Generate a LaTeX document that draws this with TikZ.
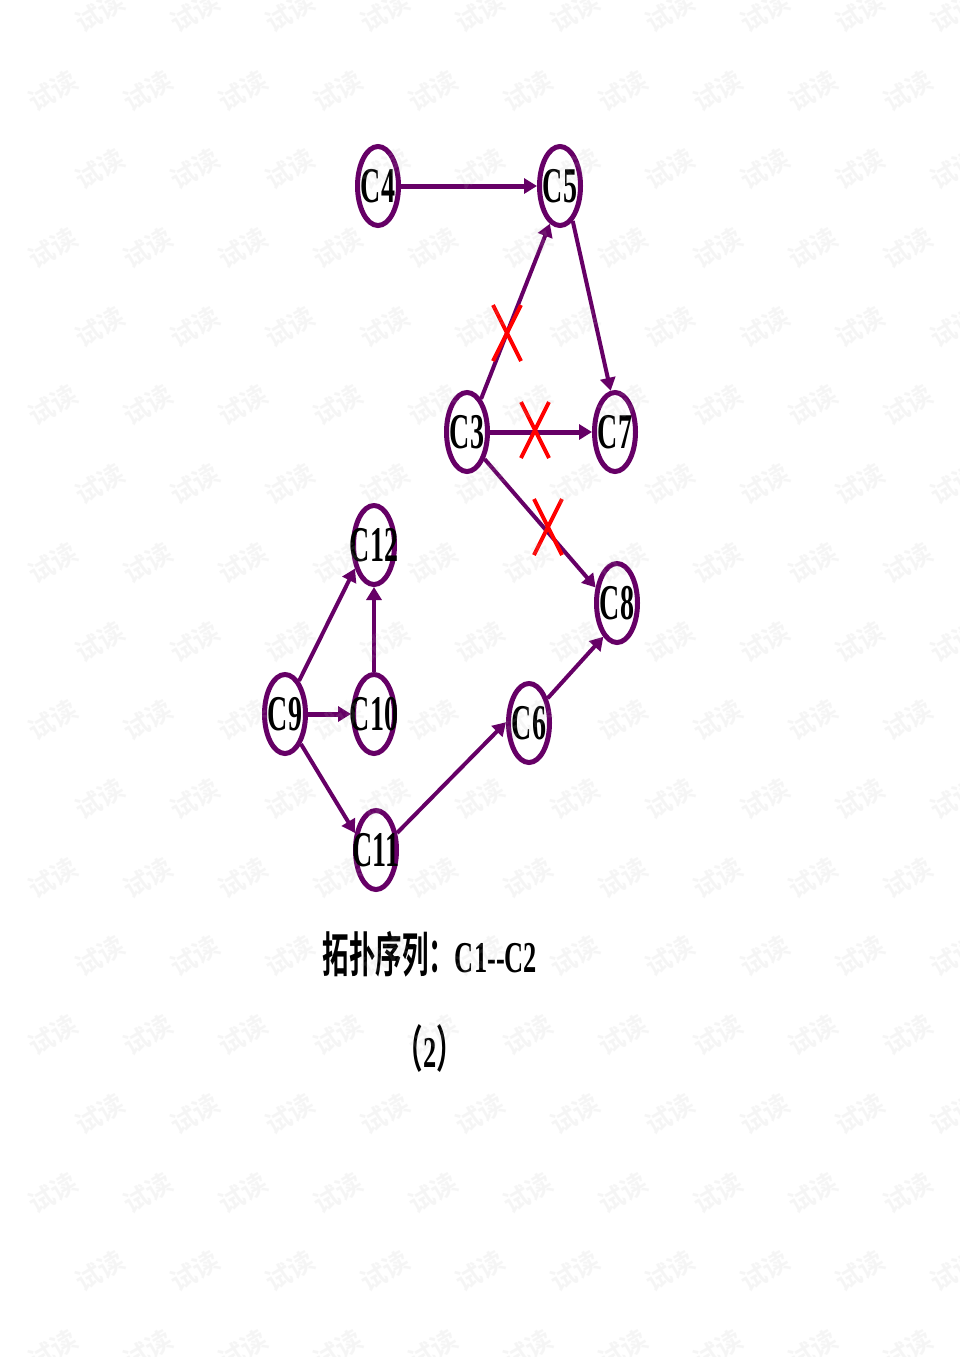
\documentclass[tikz,border=0pt]{standalone}
\usepackage{fontspec}
\usetikzlibrary{arrows.meta,shapes.geometric,calc}
\newfontfamily\labfont[FakeStretch=0.56]{Liberation Serif Bold}
\newfontfamily\capfont[FakeStretch=0.6]{Liberation Serif Bold}
\newfontfamily\cjkfont[FakeStretch=0.55]{Noto Sans CJK SC Bold}
\newfontfamily\wmfont{Noto Sans CJK SC Bold}
\definecolor{vpurple}{RGB}{102,0,102}
\definecolor{wmgray}{RGB}{185,185,185}
\tikzset{
  vtx/.style={ellipse, draw=vpurple, line width=5pt, fill=white,
    minimum width=41pt, minimum height=79pt, inner sep=0pt,
    font=\labfont\fontsize{50pt}{50pt}\selectfont},
  edge/.style={draw=vpurple, line width=4pt,
    -{Triangle[length=13pt,width=15pt]}},
  hedge/.style={edge, line width=5pt},
  cross/.style={draw=red, line width=4pt},
  wm/.style={text=wmgray, text opacity=0.13, rotate=30,
    font=\wmfont\fontsize{26pt}{26pt}\selectfont, inner sep=0pt}
}
\newcommand{\lbl}[1]{\makebox[0pt]{#1}}
\begin{document}
\begin{tikzpicture}[x=1pt,y=-1pt]
\path[use as bounding box, fill=white] (0,0) rectangle (960,1357);

% nodes
\node[vtx] (c4)  at (378,186) {\lbl{C4}};
\node[vtx] (c5)  at (560,186) {\lbl{C5}};
\node[vtx] (c3)  at (467,432) {\lbl{C3}};
\node[vtx] (c7)  at (615,432) {\lbl{C7}};
\node[vtx] (c8)  at (617,603) {\lbl{C8}};
\node[vtx] (c12) at (374,545) {\lbl{C12}};
\node[vtx] (c9)  at (285,714) {\lbl{C9}};
\node[vtx] (c10) at (374,714) {\lbl{C10}};
\node[vtx] (c11) at (376,850) {\lbl{C11}};
\node[vtx] (c6)  at (529,723) {\lbl{C6}};

% edges
\draw[hedge] (c4.0) -- (c5.180);
\draw[edge] (c3.67) -- (c5.-105);
\draw[edge] (c5.-70) -- (c7.96);
\draw[hedge] (c3.0) -- (c7.180);
\draw[edge] (c3.-57) -- (c8.144);
\draw[edge] (c9.67) -- (c12.-129);
\draw[hedge] (c9.0) -- (c10.180);
\draw[edge] (c10.90) -- (c12.-90);
\draw[edge] (c9.-62) -- (c11.141);
\draw[edge] (c11.39) -- (c6.178);
\draw[edge] (c6.53) -- (c8.-112);

% red crosses
\coordinate (x1) at (507,333);
\coordinate (x2) at (535,430);
\coordinate (x3) at (548,527);
\foreach \x in {x1,x2,x3}{
  \draw[cross] ($(\x)+(-14,-28)$) -- ($(\x)+(14,28)$);
  \draw[cross] ($(\x)+(14,-28)$) -- ($(\x)+(-14,28)$);
}

% captions
\node[anchor=base, inner sep=0pt] (cap1) at (430,972)
  {{\cjkfont\fontsize{48pt}{48pt}\selectfont 拓扑序列：}{\capfont\fontsize{44pt}{44pt}\selectfont C1-{}-C2}};
\node[anchor=base, inner sep=0pt] (cap2) at (430,1067)
  {{\cjkfont\fontsize{50pt}{50pt}\selectfont （}{\capfont\fontsize{44pt}{44pt}\selectfont 2}{\cjkfont\fontsize{50pt}{50pt}\selectfont ）}};

% watermark
\foreach \r in {0,...,17}{
  \pgfmathsetmacro{\wy}{12+78.7*\r}
  \pgfmathsetmacro{\wx}{ifthenelse(mod(\r,2)==0,100,53)}
  \foreach \i in {0,...,9}{
    \node[wm] (wm-\r-\i) at ({\wx+95*\i},\wy) {试读};
  }
}
\end{tikzpicture}
\end{document}
